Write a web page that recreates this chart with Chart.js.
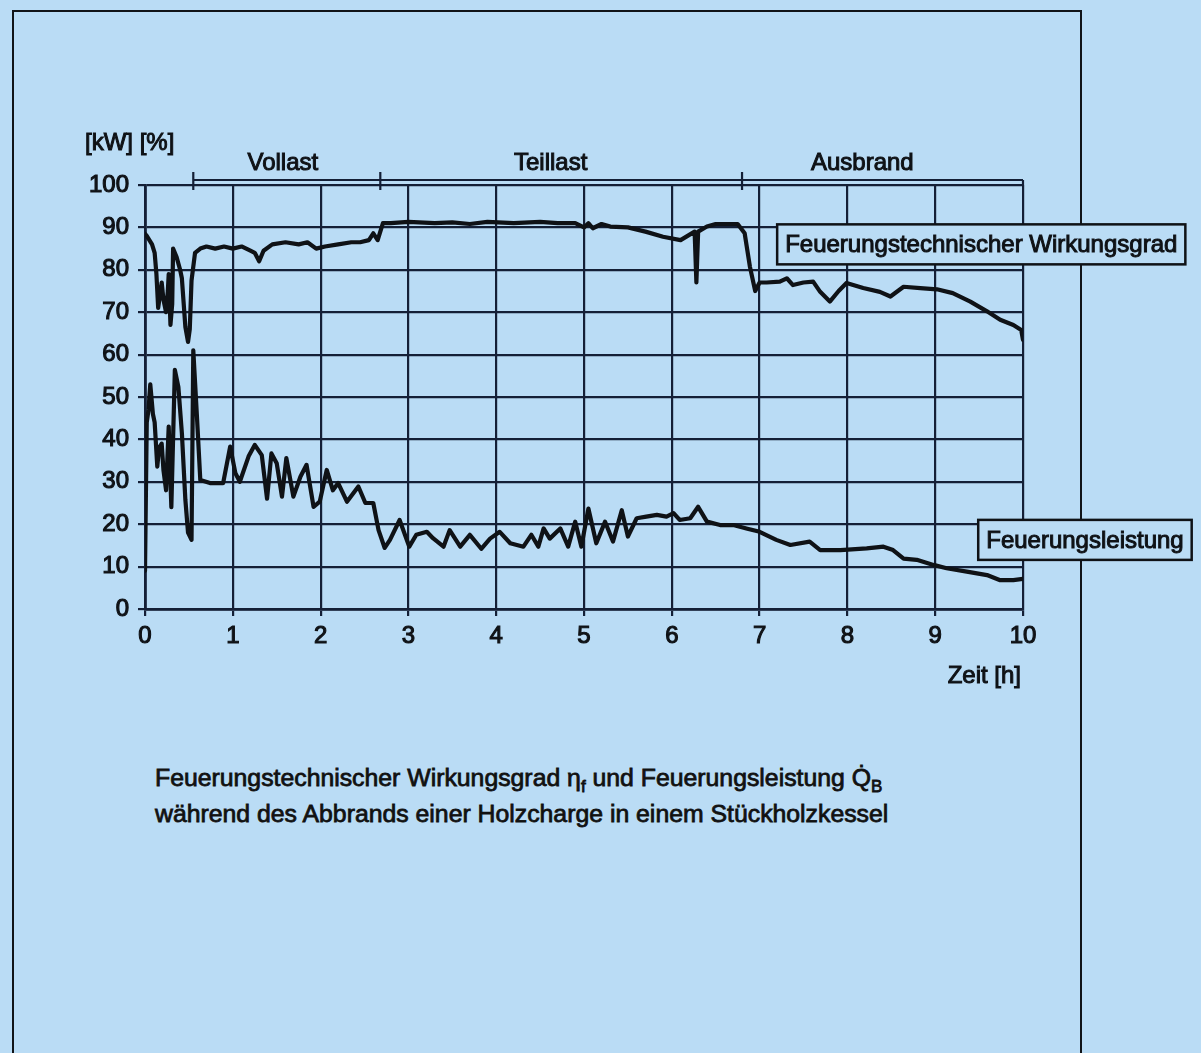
<!DOCTYPE html>
<html>
<head>
<meta charset="utf-8">
<script src="https://cdn.jsdelivr.net/npm/chart.js@4"></script>
<style>
  html, body { margin: 0; padding: 0; }
  body { width: 1201px; height: 1053px; background: #badcf5; position: relative; overflow: hidden;
         font-family: "Liberation Sans", Arial, sans-serif; color: #111; }
  #frame { position: absolute; left: 12px; top: 10px; width: 1066px; height: 1100px;
           border: 2.5px solid #111418; border-bottom: none; }
  #caption { position: absolute; left: 155px; top: 760px; font-size: 24.8px; line-height: 36px;
             -webkit-text-stroke: 0.8px #111; }
  #caption sub { font-size: 17px; vertical-align: -6px; line-height: 0; }
  #chart { position: absolute; left: 0; top: 0; }
</style>
</head>
<body>
<div id="frame"></div>
<div id="caption">Feuerungstechnischer Wirkungsgrad η<sub>f</sub> und Feuerungsleistung Q̇<sub>B</sub><br>während des Abbrands einer Holzcharge in einem Stückholzkessel</div>
<canvas id="chart" width="1201" height="1053"></canvas>
<script>
// Zeitachse in Stunden, Werte in % bzw. kW
const effTime = [0, 0.02, 0.05, 0.08, 0.11, 0.13, 0.15, 0.17, 0.19, 0.21, 0.24, 0.26, 0.27, 0.29, 0.31, 0.32, 0.36, 0.40, 0.42, 0.46, 0.49, 0.51, 0.53, 0.57, 0.63,
  0.7, 0.8, 0.9, 1.0, 1.1, 1.2, 1.25, 1.3, 1.35, 1.45, 1.6, 1.75, 1.85, 1.95, 2.05, 2.2, 2.35, 2.45, 2.55, 2.6, 2.65, 2.71,
  2.8, 3.0, 3.3, 3.5, 3.7, 3.9, 4.2, 4.5, 4.7, 4.9, 5.0, 5.05, 5.1, 5.2, 5.3, 5.5, 5.7, 5.9, 6.1, 6.26, 6.28, 6.30, 6.4, 6.5, 6.75,
  6.83, 6.89, 6.95, 7.0, 7.08, 7.23, 7.31, 7.38, 7.5, 7.61, 7.69, 7.8, 7.9, 7.99, 8.18, 8.37, 8.49, 8.64, 8.83, 9.02, 9.2, 9.4,
  9.59, 9.74, 9.89, 9.98, 10];
const effValues = [88.5, 88, 87, 86, 84, 79, 71, 74, 77, 73, 70, 75, 79, 67, 72, 85, 83, 80, 78, 66.5, 63, 66, 77.5, 84, 85,
  85.5, 85, 85.5, 85, 85.5, 84.5, 84, 82, 84.5, 86, 86.5, 86, 86.5, 85, 85.5, 86, 86.5, 86.5, 87, 88.6, 87, 91,
  91, 91.3, 91, 91.2, 90.8, 91.3, 91, 91.3, 91, 91, 90, 91, 89.8, 90.8, 90.2, 90, 89, 87.8, 87, 89, 77, 89, 90.2, 90.8, 90.8,
  88.6, 80.7, 75, 77, 77, 77.2, 78, 76.4, 77, 77.2, 74.8, 72.5, 75, 76.9, 75.7, 74.8, 73.7, 76, 75.7, 75.4, 74.5, 72.5,
  70.2, 68.2, 67, 65.8, 63.5];

const powTime = [0, 0.02, 0.04, 0.06, 0.09, 0.11, 0.14, 0.16, 0.19, 0.21, 0.24, 0.27, 0.30, 0.34, 0.38, 0.42, 0.46, 0.49, 0.53, 0.55, 0.59, 0.63,
  0.74, 0.89, 0.97, 1.03, 1.08, 1.18, 1.25, 1.33, 1.39, 1.44, 1.50, 1.56, 1.61, 1.69, 1.77, 1.84, 1.92, 1.99, 2.07, 2.14, 2.20, 2.30,
  2.43, 2.51, 2.60, 2.66, 2.73, 2.79, 2.90, 3.01, 3.09, 3.21, 3.28, 3.40, 3.47, 3.59, 3.70, 3.83, 3.93, 4.04, 4.16, 4.31, 4.40, 4.48,
  4.54, 4.61, 4.73, 4.82, 4.90, 4.97, 5.05, 5.14, 5.24, 5.33, 5.43, 5.50, 5.60, 5.71, 5.83, 5.94, 6.02, 6.09, 6.21, 6.30, 6.40, 6.55,
  6.70, 6.85, 7.00, 7.19, 7.35, 7.57, 7.69, 7.92, 8.22, 8.41, 8.52, 8.64, 8.79, 8.98, 9.13, 9.36, 9.59, 9.74, 9.89, 10];
const powValues = [9, 44, 47, 53, 46, 44, 33.6, 38, 39, 32.8, 28, 43, 24, 56.4, 52.4, 41.5, 25.7, 18, 16.3, 61, 46, 30.4,
  29.7, 29.7, 38.3, 32, 30, 36, 38.7, 36.3, 26, 36.7, 34.4, 26.5, 35.6, 26.5, 31.2, 34, 24.1, 25.3, 32.8, 28, 29.7, 25.3,
  28.9, 25, 25, 18.6, 14.4, 16.3, 21, 14.7, 17.5, 18.2, 16.7, 14.7, 18.6, 14.7, 17.5, 14.2, 16.6, 18.2, 15.5, 14.7, 17.5, 14.7,
  19, 16.6, 19, 14.7, 20.6, 14.7, 23.7, 15.5, 20.6, 15.9, 23.3, 17.1, 21.4, 21.8, 22.2, 21.8, 22.6, 21, 21.4, 24.1, 20.6, 19.8,
  19.8, 19, 18.2, 16.3, 15.1, 15.9, 13.9, 13.9, 14.3, 14.7, 13.9, 11.9, 11.6, 10.4, 9.6, 8.8, 8, 6.8, 6.8, 7.1];

// Phasen: Grenzen und Beschriftung (Stunden)
const phaseBounds = [0.55, 2.68, 6.8, 10];
const phaseNames = ['Vollast', 'Teillast', 'Ausbrand'];
const phaseCenters = [1.57, 4.62, 8.17];

// Beschriftungsboxen der Kurven: [Text, linke Kante in h, Mitte in %]
const seriesLabels = [
  ['Feuerungstechnischer Wirkungsgrad', 7.2, 86],
  ['Feuerungsleistung', 9.49, 16.3]
];

const ink = '#0f1216';
const gridInk = '#141f36';
const font = '"Liberation Sans", Arial, sans-serif';

const toPoints = (t, v) => t.map((x, i) => ({ x: x, y: v[i] }));

const extras = {
  id: 'extras',
  afterDraw(chart) {
    const c = chart.ctx, xs = chart.scales.x, ys = chart.scales.y, top = chart.chartArea.top;
    c.save();
    c.strokeStyle = gridInk;
    c.fillStyle = ink;
    c.lineWidth = 2.2;
    // Phasenleiste oberhalb des Diagramms
    const barY = top - 5;
    c.beginPath();
    c.moveTo(xs.getPixelForValue(phaseBounds[0]), barY);
    c.lineTo(xs.getPixelForValue(10), barY);
    c.moveTo(xs.getPixelForValue(10), barY);
    c.lineTo(xs.getPixelForValue(10), top);
    phaseBounds.slice(0, 3).forEach(b => {
      const px = xs.getPixelForValue(b);
      c.moveTo(px, top - 13);
      c.lineTo(px, top + 5);
    });
    c.stroke();
    c.font = '24px ' + font;
    c.textAlign = 'center';
    c.textBaseline = 'middle';
    c.lineWidth = 1;
    c.strokeStyle = ink;
    phaseNames.forEach((n, i) => {
      const px = xs.getPixelForValue(phaseCenters[i]);
      c.fillText(n, px, top - 22);
      c.strokeText(n, px, top - 22);
    });
    // Achsenbeschriftungen
    c.textAlign = 'left';
    c.fillText('[kW] [%]', 85, top - 42);
    c.strokeText('[kW] [%]', 85, top - 42);
    c.textAlign = 'right';
    c.fillText('Zeit [h]', xs.getPixelForValue(10) - 2, 676);
    c.strokeText('Zeit [h]', xs.getPixelForValue(10) - 2, 676);
    // Kurvenbeschriftungen in Rahmen
    c.textAlign = 'left';
    seriesLabels.forEach(([txt, hx, vy]) => {
      const x0 = xs.getPixelForValue(hx), cy = ys.getPixelForValue(vy);
      const w = c.measureText(txt).width + 16, h = 40;
      c.fillStyle = '#badcf5';
      c.fillRect(x0, cy - h / 2, w, h);
      c.lineWidth = 2.5;
      c.strokeStyle = ink;
      c.strokeRect(x0, cy - h / 2, w, h);
      c.fillStyle = ink;
      c.lineWidth = 1;
      c.fillText(txt, x0 + 8, cy + 1);
      c.strokeText(txt, x0 + 8, cy + 1);
    });
    c.restore();
  }
};

new Chart(document.getElementById('chart'), {
  type: 'line',
  data: {
    datasets: [
      { label: 'Feuerungstechnischer Wirkungsgrad', data: toPoints(effTime, effValues) },
      { label: 'Feuerungsleistung', data: toPoints(powTime, powValues) }
    ]
  },
  options: {
    responsive: false,
    animation: false,
    events: [],
    layout: { padding: { left: 85, top: 185, right: 178, bottom: 394 } },
    elements: {
      line: { borderColor: ink, borderWidth: 4.2, tension: 0, borderJoinStyle: 'round', borderCapStyle: 'round' },
      point: { radius: 0 }
    },
    plugins: { legend: { display: false }, tooltip: { enabled: false } },
    scales: {
      x: {
        type: 'linear', min: 0, max: 10,
        afterFit: s => { s.height = 50; },
        ticks: { stepSize: 1, color: ink, font: { size: 24, family: font }, padding: 6,
                 textStrokeColor: ink, textStrokeWidth: 1.1 },
        grid: { color: gridInk, lineWidth: 2.2, tickLength: 7 },
        border: { color: gridInk, width: 2.8 }
      },
      y: {
        min: 0, max: 100,
        afterFit: s => { s.width = 60; },
        ticks: { stepSize: 10, color: ink, font: { size: 24, family: font }, padding: 9,
                 textStrokeColor: ink, textStrokeWidth: 1.1 },
        grid: { color: gridInk, lineWidth: 2.2, tickLength: 7 },
        border: { color: gridInk, width: 2.8 }
      }
    }
  },
  plugins: [extras]
});
</script>
</body>
</html>
